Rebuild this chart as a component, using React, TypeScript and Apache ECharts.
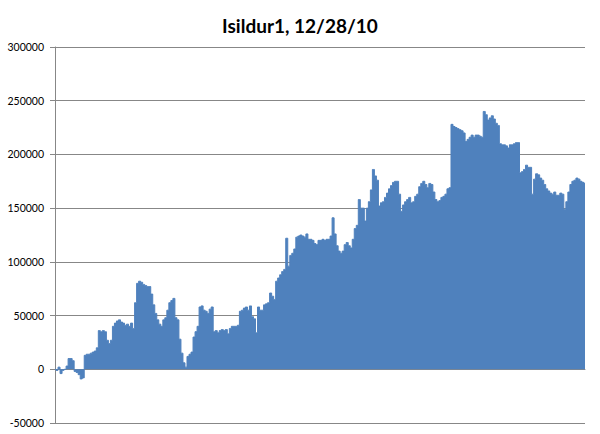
import React, { useEffect, useRef } from "react";
import * as echarts from "echarts";

const TITLE = "Isildur1, 12/28/10";
const Y_TICKS = [-50000, 0, 50000, 100000, 150000, 200000, 250000, 300000];

// Running result in thousands, read roughly every 2 px across the plot
const valuesK: number[] = [
  0, -1, 2, -4, -1, 0, 3, 10, 10, 8,
  -2, -3, -5, -9, -8, 13, 14, 14, 15, 16,
  17, 20, 36, 35, 36, 35, 27, 24, 27, 40,
  43, 45, 46, 44, 43, 41, 42, 40, 43, 38,
  62, 80, 82, 81, 79, 78, 77, 77, 70, 60,
  52, 46, 42, 40, 46, 48, 55, 62, 64, 66,
  48, 46, 28, 15, 6, 2, 12, 14, 16, 30,
  35, 40, 58, 59, 55, 54, 52, 56, 58, 35,
  36, 34, 36, 37, 36, 37, 33, 38, 40, 40,
  40, 41, 54, 55, 57, 58, 55, 59, 49, 47,
  34, 58, 55, 55, 60, 61, 62, 71, 68, 65,
  82, 85, 88, 91, 93, 122, 96, 106, 108, 112,
  123, 124, 125, 124, 123, 126, 121, 121, 120, 117,
  116, 120, 120, 121, 120, 121, 121, 124, 141, 126,
  115, 110, 108, 110, 116, 118, 115, 113, 121, 131,
  134, 158, 150, 150, 138, 150, 156, 167, 186, 180,
  176, 152, 155, 156, 160, 164, 168, 171, 174, 175,
  175, 163, 147, 153, 156, 158, 160, 155, 156, 161,
  163, 170, 173, 175, 172, 169, 173, 172, 165, 158,
  156, 157, 160, 161, 163, 168, 169, 228, 226, 225,
  224, 223, 222, 220, 212, 214, 216, 218, 216, 218,
  218, 217, 216, 240, 237, 232, 234, 236, 233, 229,
  227, 210, 209, 209, 208, 206, 209, 209, 210, 211,
  211, 183, 184, 186, 190, 188, 188, 163, 177, 182,
  181, 178, 176, 172, 168, 166, 164, 163, 165, 162,
  162, 164, 163, 149, 156, 165, 172, 175, 176, 178,
  177, 175, 174, 173,
];

const values = valuesK.map((v) => v * 1000);
const categories = values.map((_, i) => String(i + 1));

export default function App() {
  const ref = useRef<HTMLDivElement>(null);
  useEffect(() => {
    if (!ref.current) return;
    const chart = echarts.init(ref.current, null, { renderer: "svg" });
    const gray = "#878787";
    chart.setOption({
      animation: false,
      backgroundColor: "#ffffff",
      title: {
        text: TITLE,
        left: "center",
        top: 11,
        textStyle: {
          fontFamily: "Lato, 'Open Sans', sans-serif",
          fontWeight: "bold",
          fontSize: 19,
          color: "#000000",
        },
      },
      grid: { left: 55, right: 15, top: 47, bottom: 11, containLabel: false },
      xAxis: {
        type: "category",
        data: categories,
        boundaryGap: false,
        axisLine: { show: true, onZero: true, lineStyle: { color: gray, width: 1 } },
        axisTick: { show: false },
        axisLabel: { show: false },
        splitLine: { show: false },
      },
      yAxis: {
        type: "value",
        min: Y_TICKS[0],
        max: Y_TICKS[Y_TICKS.length - 1],
        interval: 50000,
        axisLine: { show: true, lineStyle: { color: gray, width: 1 } },
        axisTick: { show: true, length: 5, lineStyle: { color: gray } },
        axisLabel: {
          margin: 11,
          formatter: (v: number) => String(v),
          fontFamily: "Lato, 'Open Sans', sans-serif",
          fontSize: 10.5,
          color: "#000000",
        },
        splitLine: { show: true, lineStyle: { color: gray, width: 1 } },
      },
      series: [
        {
          type: "line",
          data: values,
          step: "middle",
          symbol: "none",
          lineStyle: { color: "#4F81BD", width: 1 },
          areaStyle: { color: "#4F81BD", opacity: 1, origin: 0 },
        },
      ],
    });
    return () => chart.dispose();
  }, []);
  return (
    <div
      ref={ref}
      style={{ position: "fixed", left: 0, top: 0, width: 600, height: 434 }}
    />
  );
}
